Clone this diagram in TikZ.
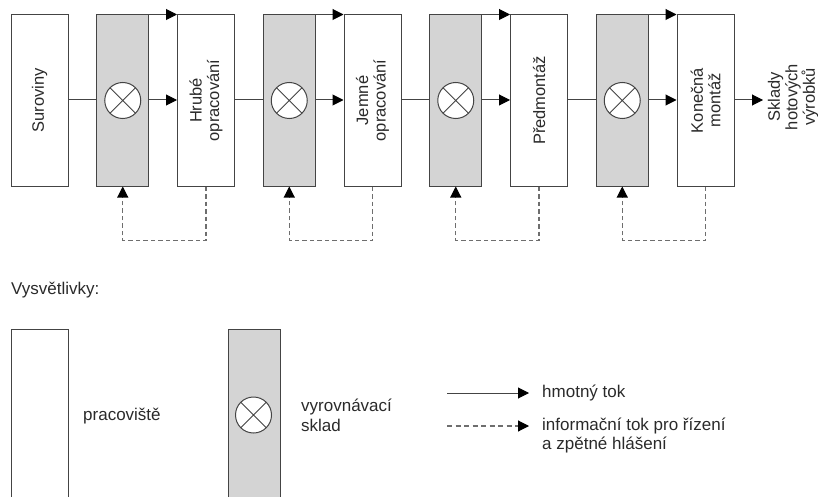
\documentclass[tikz,border=0pt]{standalone}
\usepackage{fontspec}
\setmainfont{Liberation Sans}
\usetikzlibrary{arrows.meta}

\definecolor{linegray}{HTML}{444444}
\definecolor{buffergray}{HTML}{D4D4D4}
\definecolor{dashgray}{HTML}{6E6E6E}
\definecolor{textgray}{HTML}{2A2A2A}

\tikzset{
  station/.style={draw=linegray, fill=white, line width=1pt, inner sep=0pt,
    minimum width=57pt, minimum height=171pt},
  buffer/.style={station, fill=buffergray, minimum width=52pt},
  xcircle/.style={draw=linegray, fill=white, circle, line width=1pt,
    minimum size=36pt, inner sep=0pt,
    path picture={
      \draw[linegray, line width=0.9pt]
        (path picture bounding box.north west) -- (path picture bounding box.south east)
        (path picture bounding box.north east) -- (path picture bounding box.south west);
    }},
  boxlabel/.style={rotate=90, align=center, text=textgray,
    font=\fontsize{16.5}{17.5}\selectfont},
  legendtext/.style={text=textgray, align=left, inner sep=0pt,
    font=\fontsize{17}{19.5}\selectfont},
  tip/.style={-{Triangle[length=11pt,width=11pt,color=black]}},
  flow/.style={linegray, line width=1pt},
  info/.style={dashgray, line width=1.1pt, dash pattern=on 4.5pt off 3pt},
}

\begin{document}
\begin{tikzpicture}[x=1pt, y=-1pt]
\useasboundingbox (0,0) rectangle (818,497);

% production line: workstations and buffer stores
\node[station] (s0) at (39.5,100.5) {};
\node[buffer]  (b1) at (122.75,100.5) {};
\node[station] (s1) at (206,100.5) {};
\node[buffer]  (b2) at (289.25,100.5) {};
\node[station] (s2) at (372.5,100.5) {};
\node[buffer]  (b3) at (455.75,100.5) {};
\node[station] (s3) at (539,100.5) {};
\node[buffer]  (b4) at (622.25,100.5) {};
\node[station] (s4) at (705.5,100.5) {};

\node[boxlabel] (t0) at (s0) {Suroviny};
\node[boxlabel] (t1) at (s1) {Hrubé\\opracování};
\node[boxlabel] (t2) at (s2) {Jemné\\opracování};
\node[boxlabel] (t3) at (s3) {Předmontáž};
\node[boxlabel] (t4) at (s4) {Konečná\\montáž};

\foreach \b in {b1,b2,b3,b4} {
  \node[xcircle] (c\b) at (\b.center) {};
}

% material flow
\foreach \s/\b/\n in {s0/b1/s1, s1/b2/s2, s2/b3/s3, s3/b4/s4} {
  \draw[flow] (\s.east |- 0,100) -- (\b.west |- 0,100);
  \draw[flow, tip] (\b.east |- 0,100) -- (\n.west |- 0,100);
  \draw[flow, tip] (\b.north east) -- (\n.north west);
}

\node[boxlabel] (out) at (793,97) {Sklady\\hotových\\výrobků};
\coordinate (outtip) at (763,100);
\draw[flow, tip] (s4.east |- 0,100) -- (outtip);

% information flow back to the buffers
\foreach \s/\b in {s1/b1, s2/b2, s3/b3, s4/b4} {
  \draw[info, tip] (\s.south) -- ++(0,54) -| (\b.south);
}

% legend
\node[legendtext, anchor=west] (leg) at (11,290) {Vysvětlivky:};

\draw[flow] (11,497) -- (11,329) -- (68,329) -- (68,497);
\node[legendtext, anchor=west] (lws) at (83,416) {pracoviště};

\fill[buffergray] (228,329) rectangle (280,497);
\draw[flow] (228,497) -- (228,329) -- (280,329) -- (280,497);
\node[xcircle] (lc) at (253.5,415) {};
\node[legendtext, anchor=west] (lbs) at (301,415.5) {vyrovnávací\\sklad};

\coordinate (la1) at (447,393);
\coordinate (lb1) at (529,393);
\draw[flow, tip] (la1) -- (lb1);
\node[legendtext, anchor=west] (lmat) at (542,393) {hmotný tok};

\coordinate (la2) at (447,426);
\coordinate (lb2) at (529,426);
\draw[info, dash pattern=on 5pt off 3.5pt, tip] (la2) -- (lb2);
\node[legendtext, anchor=west] (linf) at (542,435.5) {informační tok pro řízení\\a zpětné hlášení};

\end{tikzpicture}
\end{document}
